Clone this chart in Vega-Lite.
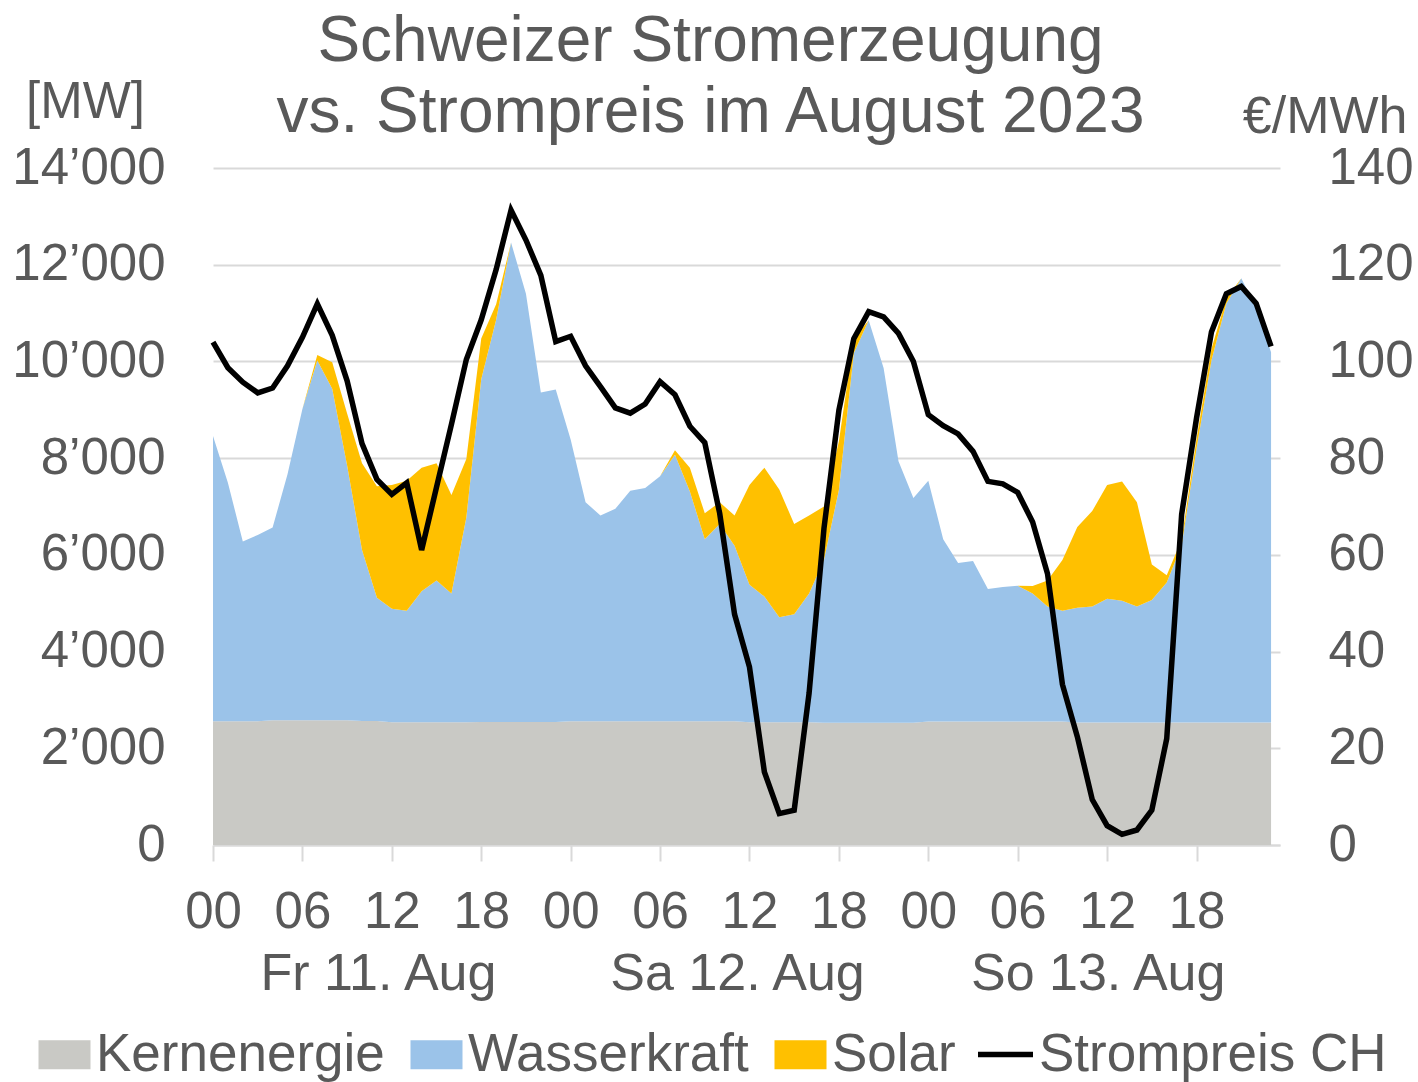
{
  "$schema": "https://vega.github.io/schema/vega-lite/v6.json",
  "width": 1067,
  "height": 677,
  "autosize": "none",
  "padding": {"left": 213, "top": 168, "right": 138, "bottom": 237},
  "background": "white",
  "title": {
    "text": ["Schweizer Stromerzeugung", "vs. Strompreis im August 2023"],
    "fontSize": 64,
    "lineHeight": 71,
    "fontWeight": "normal",
    "color": "#595959",
    "anchor": "middle",
    "dx": -36,
    "baseline": "alphabetic",
    "offset": -120
  },
  "datasets": {
    "gen": [
      {"h": 0, "Kernenergie": 2560, "Wasserkraft": 5898, "Solar": 0, "Preis": 104.0},
      {"h": 1, "Kernenergie": 2560, "Wasserkraft": 4929, "Solar": 0, "Preis": 98.7},
      {"h": 2, "Kernenergie": 2560, "Wasserkraft": 3718, "Solar": 0, "Preis": 95.7},
      {"h": 3, "Kernenergie": 2560, "Wasserkraft": 3853, "Solar": 0, "Preis": 93.5},
      {"h": 4, "Kernenergie": 2580, "Wasserkraft": 3985, "Solar": 0, "Preis": 94.5},
      {"h": 5, "Kernenergie": 2580, "Wasserkraft": 5088, "Solar": 0, "Preis": 99.1},
      {"h": 6, "Kernenergie": 2580, "Wasserkraft": 6434, "Solar": 0, "Preis": 105.0},
      {"h": 7, "Kernenergie": 2580, "Wasserkraft": 7438, "Solar": 117, "Preis": 111.9},
      {"h": 8, "Kernenergie": 2580, "Wasserkraft": 6855, "Solar": 547, "Preis": 105.4},
      {"h": 9, "Kernenergie": 2580, "Wasserkraft": 5268, "Solar": 1076, "Preis": 96.0},
      {"h": 10, "Kernenergie": 2565, "Wasserkraft": 3534, "Solar": 1794, "Preis": 83.0},
      {"h": 11, "Kernenergie": 2565, "Wasserkraft": 2547, "Solar": 2305, "Preis": 75.6},
      {"h": 12, "Kernenergie": 2540, "Wasserkraft": 2348, "Solar": 2556, "Preis": 72.5},
      {"h": 13, "Kernenergie": 2540, "Wasserkraft": 2303, "Solar": 2691, "Preis": 74.9},
      {"h": 14, "Kernenergie": 2540, "Wasserkraft": 2707, "Solar": 2556, "Preis": 61.0},
      {"h": 15, "Kernenergie": 2540, "Wasserkraft": 2931, "Solar": 2422, "Preis": 74.0},
      {"h": 16, "Kernenergie": 2540, "Wasserkraft": 2662, "Solar": 2037, "Preis": 87.0},
      {"h": 17, "Kernenergie": 2540, "Wasserkraft": 4232, "Solar": 1211, "Preis": 100.4},
      {"h": 18, "Kernenergie": 2545, "Wasserkraft": 7085, "Solar": 843, "Preis": 108.6},
      {"h": 19, "Kernenergie": 2545, "Wasserkraft": 8315, "Solar": 320, "Preis": 119.0},
      {"h": 20, "Kernenergie": 2545, "Wasserkraft": 9915, "Solar": 0, "Preis": 131.3},
      {"h": 21, "Kernenergie": 2545, "Wasserkraft": 8855, "Solar": 0, "Preis": 125.1},
      {"h": 22, "Kernenergie": 2545, "Wasserkraft": 6810, "Solar": 0, "Preis": 117.8},
      {"h": 23, "Kernenergie": 2545, "Wasserkraft": 6873, "Solar": 0, "Preis": 104.1},
      {"h": 24, "Kernenergie": 2560, "Wasserkraft": 5826, "Solar": 0, "Preis": 105.2},
      {"h": 25, "Kernenergie": 2560, "Wasserkraft": 4526, "Solar": 0, "Preis": 99.1},
      {"h": 26, "Kernenergie": 2560, "Wasserkraft": 4256, "Solar": 0, "Preis": 94.8},
      {"h": 27, "Kernenergie": 2560, "Wasserkraft": 4391, "Solar": 0, "Preis": 90.4},
      {"h": 28, "Kernenergie": 2560, "Wasserkraft": 4768, "Solar": 0, "Preis": 89.3},
      {"h": 29, "Kernenergie": 2560, "Wasserkraft": 4822, "Solar": 0, "Preis": 91.2},
      {"h": 30, "Kernenergie": 2560, "Wasserkraft": 5064, "Solar": 0, "Preis": 95.8},
      {"h": 31, "Kernenergie": 2560, "Wasserkraft": 5512, "Solar": 90, "Preis": 93.1},
      {"h": 32, "Kernenergie": 2560, "Wasserkraft": 4750, "Solar": 493, "Preis": 86.6},
      {"h": 33, "Kernenergie": 2560, "Wasserkraft": 3763, "Solar": 538, "Preis": 83.2},
      {"h": 34, "Kernenergie": 2560, "Wasserkraft": 4077, "Solar": 449, "Preis": 68.6},
      {"h": 35, "Kernenergie": 2560, "Wasserkraft": 3629, "Solar": 627, "Preis": 47.7},
      {"h": 36, "Kernenergie": 2540, "Wasserkraft": 2841, "Solar": 2063, "Preis": 36.8},
      {"h": 37, "Kernenergie": 2540, "Wasserkraft": 2599, "Solar": 2664, "Preis": 15.1},
      {"h": 38, "Kernenergie": 2540, "Wasserkraft": 2169, "Solar": 2645, "Preis": 6.5},
      {"h": 39, "Kernenergie": 2540, "Wasserkraft": 2232, "Solar": 1865, "Preis": 7.2},
      {"h": 40, "Kernenergie": 2540, "Wasserkraft": 2662, "Solar": 1614, "Preis": 31.4},
      {"h": 41, "Kernenergie": 2530, "Wasserkraft": 3370, "Solar": 1100, "Preis": 65.5},
      {"h": 42, "Kernenergie": 2530, "Wasserkraft": 4812, "Solar": 1008, "Preis": 89.9},
      {"h": 43, "Kernenergie": 2530, "Wasserkraft": 7640, "Solar": 300, "Preis": 104.7},
      {"h": 44, "Kernenergie": 2530, "Wasserkraft": 8322, "Solar": 0, "Preis": 110.3},
      {"h": 45, "Kernenergie": 2530, "Wasserkraft": 7336, "Solar": 0, "Preis": 109.2},
      {"h": 46, "Kernenergie": 2530, "Wasserkraft": 5407, "Solar": 0, "Preis": 105.8},
      {"h": 47, "Kernenergie": 2530, "Wasserkraft": 4645, "Solar": 0, "Preis": 100.0},
      {"h": 48, "Kernenergie": 2555, "Wasserkraft": 4979, "Solar": 0, "Preis": 89.0},
      {"h": 49, "Kernenergie": 2555, "Wasserkraft": 3768, "Solar": 0, "Preis": 86.7},
      {"h": 50, "Kernenergie": 2555, "Wasserkraft": 3275, "Solar": 0, "Preis": 85.0},
      {"h": 51, "Kernenergie": 2555, "Wasserkraft": 3320, "Solar": 0, "Preis": 81.4},
      {"h": 52, "Kernenergie": 2555, "Wasserkraft": 2737, "Solar": 0, "Preis": 75.2},
      {"h": 53, "Kernenergie": 2555, "Wasserkraft": 2782, "Solar": 0, "Preis": 74.7},
      {"h": 54, "Kernenergie": 2555, "Wasserkraft": 2805, "Solar": 0, "Preis": 72.9},
      {"h": 55, "Kernenergie": 2555, "Wasserkraft": 2647, "Solar": 153, "Preis": 66.8},
      {"h": 56, "Kernenergie": 2555, "Wasserkraft": 2378, "Solar": 538, "Preis": 56.1},
      {"h": 57, "Kernenergie": 2555, "Wasserkraft": 2288, "Solar": 1050, "Preis": 33.2},
      {"h": 58, "Kernenergie": 2535, "Wasserkraft": 2371, "Solar": 1668, "Preis": 22.4},
      {"h": 59, "Kernenergie": 2535, "Wasserkraft": 2398, "Solar": 1973, "Preis": 9.4},
      {"h": 60, "Kernenergie": 2535, "Wasserkraft": 2559, "Solar": 2350, "Preis": 4.0},
      {"h": 61, "Kernenergie": 2535, "Wasserkraft": 2515, "Solar": 2466, "Preis": 2.2},
      {"h": 62, "Kernenergie": 2535, "Wasserkraft": 2398, "Solar": 2153, "Preis": 3.1},
      {"h": 63, "Kernenergie": 2535, "Wasserkraft": 2532, "Solar": 733, "Preis": 7.2},
      {"h": 64, "Kernenergie": 2535, "Wasserkraft": 2891, "Solar": 153, "Preis": 22.0},
      {"h": 65, "Kernenergie": 2535, "Wasserkraft": 3665, "Solar": 120, "Preis": 68.4},
      {"h": 66, "Kernenergie": 2535, "Wasserkraft": 5665, "Solar": 200, "Preis": 88.3},
      {"h": 67, "Kernenergie": 2535, "Wasserkraft": 7485, "Solar": 240, "Preis": 106.1},
      {"h": 68, "Kernenergie": 2535, "Wasserkraft": 8665, "Solar": 100, "Preis": 114.0},
      {"h": 69, "Kernenergie": 2535, "Wasserkraft": 9185, "Solar": 0, "Preis": 115.5},
      {"h": 70, "Kernenergie": 2535, "Wasserkraft": 8575, "Solar": 0, "Preis": 112.0},
      {"h": 71, "Kernenergie": 2535, "Wasserkraft": 7655, "Solar": 0, "Preis": 103.1}
    ],
    "days": [
      {"h": 11.1, "day": "Fr 11. Aug"},
      {"h": 35.2, "day": "Sa 12. Aug"},
      {"h": 59.4, "day": "So 13. Aug"}
    ]
  },
  "config": {
    "font": "Liberation Sans",
    "view": {"stroke": null},
    "axis": {
      "labelColor": "#595959",
      "titleColor": "#595959",
      "labelFont": "Liberation Sans",
      "titleFont": "Liberation Sans"
    },
    "legend": {
      "labelFont": "Liberation Sans",
      "labelColor": "#595959",
      "labelFontSize": 53,
      "labelLimit": 0,
      "labelOffset": 5,
      "columnPadding": 25,
      "padding": 0,
      "direction": "horizontal",
      "orient": "none"
    }
  },
  "layer": [
    {
      "data": {"name": "gen"},
      "transform": [
        {"fold": ["Kernenergie", "Wasserkraft", "Solar"], "as": ["source", "value"]},
        {"calculate": "indexof(['Kernenergie','Wasserkraft','Solar'], datum.source)", "as": "o"}
      ],
      "mark": {"type": "area", "interpolate": "linear"},
      "encoding": {
        "x": {
          "field": "h", "type": "quantitative",
          "scale": {"domain": [0, 71.6], "nice": false, "zero": false},
          "axis": {
            "title": null,
            "values": [0, 6, 12, 18, 24, 30, 36, 42, 48, 54, 60, 66],
            "labelExpr": "(datum.value % 24 < 10 ? '0' : '') + (datum.value % 24)",
            "grid": false,
            "domainColor": "#d9d9d9",
            "domainWidth": 2,
            "tickColor": "#d9d9d9",
            "tickWidth": 2,
            "tickSize": 16,
            "labelPadding": 26,
            "labelFontSize": 51,
            "labelFlush": false,
            "labelOverlap": false
          }
        },
        "y": {
          "field": "value", "type": "quantitative", "stack": "zero",
          "scale": {"domain": [0, 14000], "nice": false},
          "axis": {
            "orient": "left",
            "values": [0, 2000, 4000, 6000, 8000, 10000, 12000, 14000],
            "labelExpr": "replace(format(datum.value, ','), ',', '’')",
            "grid": true,
            "gridColor": "#d9d9d9",
            "gridWidth": 2,
            "domain": false,
            "ticks": false,
            "tickSize": 0,
            "labelPadding": 48,
            "labelFontSize": 51,
            "title": "[MW]",
            "titleAngle": 0,
            "titleAlign": "center",
            "titleBaseline": "alphabetic",
            "titleX": -128,
            "titleY": -51,
            "titleFontSize": 51,
            "titleFontWeight": "normal"
          }
        },
        "fill": {
          "field": "source", "type": "nominal",
          "scale": {
            "domain": ["Kernenergie", "Wasserkraft", "Solar"],
            "range": ["#C9C9C5", "#9BC3E9", "#FFC000"]
          },
          "legend": {
            "legendX": -175,
            "legendY": 860,
            "title": null,
            "symbolType": "M-1,-0.56H1V0.56H-1Z",
            "symbolSize": 2704,
            "symbolStrokeWidth": 0
          }
        },
        "order": {"field": "o", "type": "quantitative"}
      }
    },
    {
      "data": {"name": "gen"},
      "mark": {"type": "line", "strokeWidth": 5.5},
      "encoding": {
        "x": {"field": "h", "type": "quantitative", "scale": {"domain": [0, 71.6], "nice": false, "zero": false}},
        "y": {
          "field": "Preis", "type": "quantitative",
          "scale": {"domain": [0, 140], "nice": false},
          "axis": {
            "orient": "right",
            "values": [0, 20, 40, 60, 80, 100, 120, 140],
            "grid": false,
            "domain": false,
            "ticks": false,
            "tickSize": 0,
            "labelPadding": 48,
            "labelFontSize": 51,
            "title": "€/MWh",
            "titleAngle": 0,
            "titleAlign": "right",
            "titleBaseline": "alphabetic",
            "titleX": 127,
            "titleY": -36,
            "titleFontSize": 52,
            "titleFontWeight": "normal"
          }
        },
        "stroke": {
          "datum": "Strompreis CH",
          "scale": {"domain": ["Strompreis CH"], "range": ["#000000"]},
          "legend": {
            "legendX": 762,
            "legendY": 856,
            "title": null,
            "labelOffset": 3,
            "symbolType": "stroke",
            "symbolSize": 3025,
            "symbolStrokeWidth": 5.5
          }
        }
      }
    },
    {
      "data": {"name": "days"},
      "mark": {"type": "text", "fontSize": 52, "color": "#595959", "align": "center", "baseline": "alphabetic"},
      "encoding": {
        "x": {"field": "h", "type": "quantitative", "scale": {"domain": [0, 71.6], "nice": false, "zero": false}},
        "y": {"datum": -3000, "type": "quantitative", "scale": {"domain": [0, 14000], "nice": false}, "axis": null},
        "text": {"field": "day"}
      }
    }
  ],
  "resolve": {"scale": {"y": "independent"}}
}
